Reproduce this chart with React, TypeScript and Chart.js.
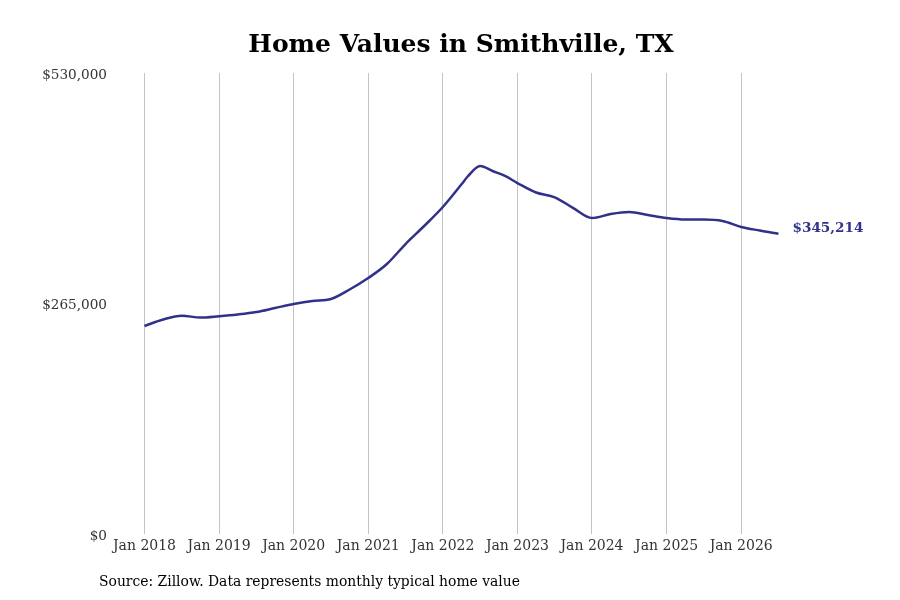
import React, { useEffect, useRef } from 'react';
import { Chart, registerables } from 'chart.js';

Chart.register(...registerables);

// months since Jan 2018
const months = [
  0, 3, 6, 9, 12, 15, 18, 21, 24, 27, 30, 33, 36, 39, 42, 45, 48, 51, 52, 54, 56, 58, 60,
  63, 66, 69, 72, 75, 78, 81, 84, 87, 90, 93, 96, 99, 102,
];
const homeValues = [
  239100, 246600, 250900, 248900, 250400, 252400, 255200, 259800, 264400, 267900,
  270200, 281100, 294300, 310400, 333400, 354100, 375900, 402000, 411000, 423100, 417300, 411600,
  403500, 392600, 387100, 374600, 363300, 367900, 370200, 366700, 363300, 361600,
  361600, 359900, 353000, 348900, 345214,
];
const yearTicks = [0, 12, 24, 36, 48, 60, 72, 84, 96];
const yearLabels = ['Jan 2018', 'Jan 2019', 'Jan 2020', 'Jan 2021', 'Jan 2022', 'Jan 2023', 'Jan 2024', 'Jan 2025', 'Jan 2026'];
const valueTicks = [0, 265000, 530000];

const TITLE = 'Home Values in Smithville, TX';
const SOURCE = 'Source: Zillow. Data represents monthly typical home value';
const LINE_COLOR = '#31318a';
const FONT = "'DejaVu Serif', serif";

const fmtMoney = (v: number) => '$' + Math.round(v).toLocaleString('en-US');

const textPlugin = {
  id: 'textPlugin',
  afterDraw(chart: any) {
    const { ctx } = chart;
    ctx.save();
    ctx.fillStyle = '#000';
    ctx.textBaseline = 'middle';
    ctx.textAlign = 'center';
    ctx.font = `bold 25px ${FONT}`;
    ctx.fillText(TITLE, 461, 45);

    ctx.textAlign = 'left';
    ctx.font = `13.9px ${FONT}`;
    ctx.fillText(SOURCE, 99, 582);

    // last value label
    const meta = chart.getDatasetMeta(0);
    const last = meta.data[meta.data.length - 1];
    if (last) {
      ctx.fillStyle = LINE_COLOR;
      ctx.font = `bold 13.6px ${FONT}`;
      ctx.fillText(fmtMoney(homeValues[homeValues.length - 1]), last.x + 14, last.y - 5);
    }
    ctx.restore();
  },
};

const HomeValueChart: React.FC = () => {
  const canvasRef = useRef<HTMLCanvasElement>(null);
  const chartInstance = useRef<Chart | null>(null);

  useEffect(() => {
    if (!canvasRef.current) return;
    if (chartInstance.current) chartInstance.current.destroy();

    chartInstance.current = new Chart(canvasRef.current, {
      type: 'line',
      data: {
        datasets: [
          {
            label: 'Home value',
            data: months.map((m, i) => ({ x: m, y: homeValues[i] })),
            borderColor: LINE_COLOR,
            borderWidth: 2.5,
            pointRadius: 0,
            cubicInterpolationMode: 'monotone',
            fill: false,
          },
        ],
      },
      options: {
        animation: false,
        responsive: false,
        layout: { padding: { top: 73, right: 83, left: 0, bottom: 0 } },
        plugins: {
          legend: { display: false },
          tooltip: { enabled: false },
          title: { display: false },
        },
        scales: {
          x: {
            type: 'linear',
            min: -4.1,
            max: 108.2,
            afterBuildTicks: (scale: any) => {
              scale.ticks = yearTicks.map((v) => ({ value: v }));
            },
            afterFit: (scale: any) => {
              scale.height = 66;
            },
            ticks: {
              autoSkip: false,
              maxRotation: 0,
              padding: 4,
              color: '#333',
              font: { family: FONT, size: 14 },
              callback: (v: any) => yearLabels[yearTicks.indexOf(Number(v))] ?? '',
            },
            grid: { color: '#c4c4c4', lineWidth: 1, drawTicks: false },
            border: { display: false },
          },
          y: {
            min: 0,
            max: 530000,
            afterBuildTicks: (scale: any) => {
              scale.ticks = valueTicks.map((v) => ({ value: v }));
            },
            afterFit: (scale: any) => {
              scale.width = 119;
            },
            ticks: {
              padding: 12,
              labelOffset: 2,
              color: '#333',
              font: { family: FONT, size: 13.6 },
              callback: (v: any) => fmtMoney(Number(v)),
            },
            grid: { display: false, drawTicks: false },
            border: { display: false },
          },
        },
      },
      plugins: [textPlugin],
    });

    return () => {
      if (chartInstance.current) {
        chartInstance.current.destroy();
        chartInstance.current = null;
      }
    };
  }, []);

  return (
    <div style={{ position: 'absolute', left: 0, top: 0, width: 900, height: 600, background: '#fff' }}>
      <canvas ref={canvasRef} width={900} height={600}></canvas>
    </div>
  );
};

export default function App() {
  return <HomeValueChart />;
}
